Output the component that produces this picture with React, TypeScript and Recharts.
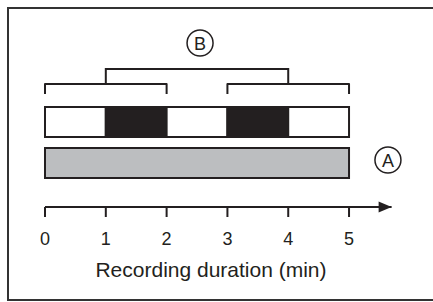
import React from 'react';
import { ComposedChart, XAxis, YAxis, Line, Scatter, ReferenceArea } from 'recharts';

// ---- data ----
const xTicks = [0, 1, 2, 3, 4, 5];
const axisEnd = 5.7; // arrow tip (min)
const segmentStart = [0, 1, 2, 3, 4];
const segmentEnd = [1, 2, 3, 4, 5];
const segmentActive = [false, true, false, true, false];
const recordStart = 0;
const recordEnd = 5;
const bracketLeft = [0, 2];
const bracketRight = [3, 5];
const bracketGroup = [1, 4];
const labelNames = ['B', 'A'];
const labelX = [2.55, 5.64];

// ---- layout levels (y units) ----
const rowB = [7.0, 10.0];
const rowA = [2.9, 5.9];
const smallBracketY = 12.3;
const smallBracketEndY = 11.3;
const groupBracketY = 13.8;
const labelY = [16.4, 4.7];

const INK = '#231f20';
const FONT = '"Liberation Sans", Arial, Helvetica, sans-serif';

const bracketData = (xs: number[], yTop: number, yEnd: number) => [
  { x: xs[0], y: yEnd },
  { x: xs[0], y: yTop },
  { x: xs[1], y: yTop },
  { x: xs[1], y: yEnd },
];

const labelData = labelNames.map((name, i) => ({ x: labelX[i], y: labelY[i], label: name }));
const arrowData = [{ x: axisEnd, y: 0 }];

const CircledLabel = (props: any) => {
  const { cx, cy, payload } = props;
  return (
    <g>
      <circle cx={cx} cy={cy} r={13} fill="none" stroke={INK} strokeWidth={1.5} />
      <text x={cx} y={cy + 6.5} textAnchor="middle" fontSize={18} fontFamily={FONT} fill={INK}>
        {payload.label}
      </text>
    </g>
  );
};

const ArrowHead = (props: any) => {
  const { cx, cy } = props;
  return <polygon points={`${cx},${cy} ${cx - 13},${cy - 5.5} ${cx - 13},${cy + 5.5}`} fill={INK} />;
};

const TickLabel = (props: any) => {
  const { x, y, payload } = props;
  return (
    <text x={x} y={y + 13} textAnchor="middle" fontSize={18} fontFamily={FONT} fill={INK}>
      {payload.value}
    </text>
  );
};

export default function App() {
  return (
    <div style={{ position: 'absolute', left: 0, top: 0, width: 433, height: 302, overflow: 'hidden', background: '#fff' }}>
      <div
        style={{
          position: 'absolute',
          left: 7,
          top: 7,
          width: 440,
          height: 294,
          boxSizing: 'border-box',
          border: '2px solid #333',
        }}
      />
      <div style={{ position: 'absolute', left: 0, top: 0 }}>
        <ComposedChart width={433} height={302} margin={{ top: 37, right: 41.4, bottom: 15, left: 45 }}>
          <XAxis
            dataKey="x"
            type="number"
            domain={[0, axisEnd]}
            ticks={xTicks}
            height={80}
            tickSize={10}
            tickMargin={15}
            axisLine={{ stroke: INK, strokeWidth: 2 }}
            tickLine={{ stroke: INK, strokeWidth: 2 }}
            tick={TickLabel}
            label={{
              content: (p: any) => {
                const vb = p.viewBox;
                return (
                  <text x={vb.x + 166} y={vb.y + 70} textAnchor="middle" fontSize={21} fontFamily={FONT} fill={INK}>
                    Recording duration (min)
                  </text>
                );
              },
            }}
          />
          <YAxis dataKey="y" type="number" domain={[0, 17]} hide />
          {segmentStart.map((s, i) => (
            <ReferenceArea
              key={'seg' + i}
              x1={s}
              x2={segmentEnd[i]}
              y1={rowB[0]}
              y2={rowB[1]}
              fill={segmentActive[i] ? INK : '#ffffff'}
              fillOpacity={1}
              stroke={INK}
              strokeWidth={2}
            />
          ))}
          <ReferenceArea
            x1={recordStart}
            x2={recordEnd}
            y1={rowA[0]}
            y2={rowA[1]}
            fill="#bcbec0"
            fillOpacity={1}
            stroke={INK}
            strokeWidth={2}
          />
          <Line
            data={bracketData(bracketLeft, smallBracketY, smallBracketEndY)}
            dataKey="y"
            stroke={INK}
            strokeWidth={2}
            strokeLinejoin="round"
            dot={false}
            activeDot={false}
            isAnimationActive={false}
          />
          <Line
            data={bracketData(bracketRight, smallBracketY, smallBracketEndY)}
            dataKey="y"
            stroke={INK}
            strokeWidth={2}
            strokeLinejoin="round"
            dot={false}
            activeDot={false}
            isAnimationActive={false}
          />
          <Line
            data={bracketData(bracketGroup, groupBracketY, smallBracketY)}
            dataKey="y"
            stroke={INK}
            strokeWidth={2}
            dot={false}
            activeDot={false}
            isAnimationActive={false}
          />
          <Scatter data={labelData} dataKey="y" shape={CircledLabel} isAnimationActive={false} />
          <Scatter data={arrowData} dataKey="y" shape={ArrowHead} isAnimationActive={false} />
        </ComposedChart>
      </div>
    </div>
  );
}
